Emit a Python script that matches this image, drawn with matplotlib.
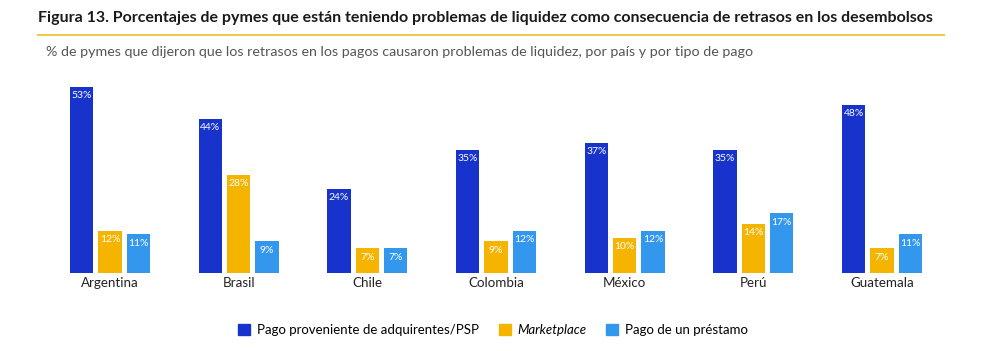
import matplotlib
matplotlib.use("Agg")
import matplotlib.pyplot as plt
from matplotlib.patches import Patch
from matplotlib.lines import Line2D
import numpy as np

countries = ["Argentina", "Brasil", "Chile", "Colombia", "México", "Perú", "Guatemala"]
psp = [53, 44, 24, 35, 37, 35, 48]
marketplace = [12, 28, 7, 9, 10, 14, 7]
prestamo = [11, 9, 7, 12, 12, 17, 11]
series_names = ["Pago proveniente de adquirentes/PSP", "Marketplace", "Pago de un préstamo"]
colors = ["#1733CC", "#F5B400", "#3397EE"]

title = "Figura 13. Porcentajes de pymes que están teniendo problemas de liquidez como consecuencia de retrasos en los desembolsos"
subtitle = "% de pymes que dijeron que los retrasos en los pagos causaron problemas de liquidez, por país y por tipo de pago"

plt.rcParams['font.family'] = ['Lato', 'DejaVu Sans']

W, H = 986, 351
fig = plt.figure(figsize=(W/100, H/100), dpi=100)

def px(x0, y0, x1, y1):
    return [x0/W, 1 - y1/H, (x1-x0)/W, (y1-y0)/H]

ax = fig.add_axes(px(45.7, 80, 946.3, 273))
x = np.arange(len(countries))
bw = 0.18
step = 0.22
for i, (vals, c) in enumerate(zip([psp, marketplace, prestamo], colors)):
    bars = ax.bar(x + (i-1)*step, vals, width=bw, color=c)
    for b, v in zip(bars, vals):
        ax.text(b.get_x() + b.get_width()/2, v - 1.2, f"{v}%", ha="center", va="top",
                color="white", fontsize=7.5)
ax.set_xlim(-0.5, len(countries)-0.5)
ax.set_ylim(0, 55)
ax.set_xticks(x)
ax.set_xticklabels(countries, fontsize=9.6, color="#222222")
ax.tick_params(axis="x", length=0, pad=3)
ax.set_yticks([])
for s in ax.spines.values():
    s.set_visible(False)

fig.text(38/W, 1 - 18/H, title, fontsize=11.5, fontweight="bold", color="#1a1a1a", va="center", ha="left")
fig.add_artist(Line2D([38/W, 944/W], [1-35/H, 1-35/H], color="#F0C84A", lw=1.5))
fig.text(46/W, 1 - 52/H, subtitle, fontsize=10.3, color="#555555", va="center", ha="left")

handles = [Patch(color=c) for c in colors]
leg = fig.legend(handles, series_names, loc="center", bbox_to_anchor=(0.5, 1 - 330/H), ncol=3,
                 frameon=False, fontsize=9.5, handlelength=0.9, handleheight=0.9,
                 handletextpad=0.5, columnspacing=1.5)
leg.get_texts()[1].set_style("italic")

fig.savefig("out.png", dpi=100)
